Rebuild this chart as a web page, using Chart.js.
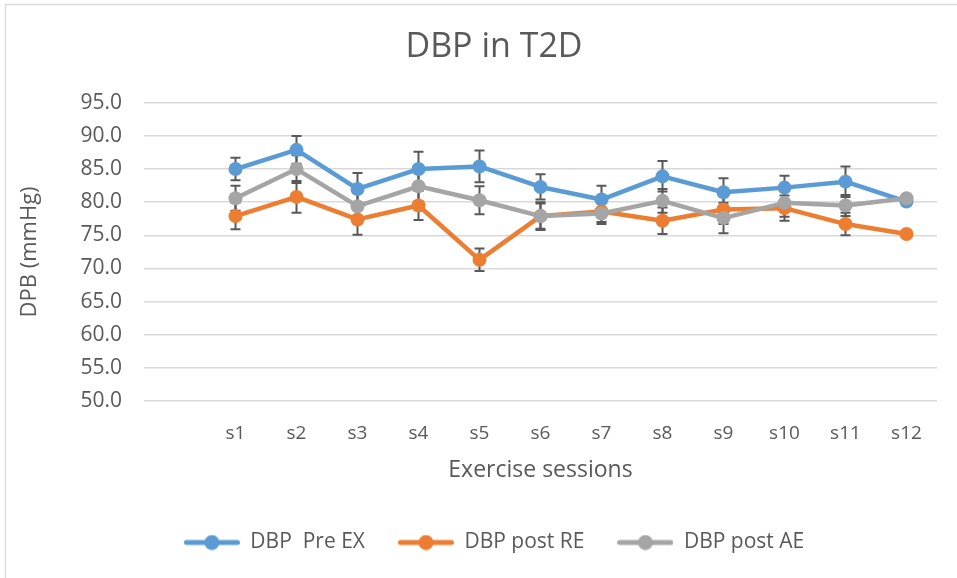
<!DOCTYPE html>
<html><head><meta charset="utf-8">
<script src="https://cdn.jsdelivr.net/npm/chart.js@4.4.1/dist/chart.umd.min.js"></script>
<style>
html,body{margin:0;padding:0;overflow:hidden;background:#fff;width:957px;height:578px}
#wrap{position:absolute;left:0;top:0;width:983px;height:578px}
</style>
</head><body><div id="wrap"><canvas id="c" width="983" height="578"></canvas></div>
<script>
// ---- data ----
const categories = ['', 's1', 's2', 's3', 's4', 's5', 's6', 's7', 's8', 's9', 's10', 's11', 's12'];
const seriesNames = ['DBP  Pre EX', 'DBP post RE', 'DBP post AE'];
const preEx     = [null, 85.0, 87.9, 82.0, 85.0, 85.4, 82.3, 80.4, 83.9, 81.5, 82.2, 83.1, 80.1];
const preExErr  = [null, 1.7, 2.1, 2.4, 2.6, 2.4, 1.9, 2.1, 2.3, 2.1, 1.8, 2.3, 0];
const postRE    = [null, 77.9, 80.8, 77.4, 79.5, 71.3, 77.9, 78.6, 77.2, 78.9, 79.1, 76.7, 75.2];
const postREErr = [null, 2.0, 2.4, 2.3, 2.2, 1.7, 2.1, 1.6, 2.0, 2.2, 1.9, 1.7, 0];
const postAE    = [null, 80.6, 85.0, 79.4, 82.4, 80.3, 77.9, 78.3, 80.2, 77.6, 79.9, 79.5, 80.6];
const postAEErr = [null, 1.9, 2.1, 2.0, 2.3, 2.1, 1.9, 1.6, 1.8, 2.3, 2.1, 1.6, 0];
const yMin = 50, yMax = 95, yStep = 5;

const colors = ['#5B9BD5', '#ED7D31', '#A5A5A5'];
const textColor = '#595959';

function legendIcon(color) {
  const c = document.createElement('canvas');
  c.width = 56; c.height = 16;
  const g = c.getContext('2d');
  g.strokeStyle = color; g.lineWidth = 5; g.lineCap = 'round';
  g.beginPath(); g.moveTo(2.5, 8); g.lineTo(53.5, 8); g.stroke();
  g.fillStyle = color;
  g.beginPath(); g.arc(28, 8, 7.5, 0, Math.PI * 2); g.fill();
  return c;
}
const icons = colors.map(legendIcon);

const errorBars = {
  id: 'errorBars',
  beforeDatasetsDraw(chart) {
    const ctx = chart.ctx, xs = chart.scales.x, ys = chart.scales.y;
    ctx.save();
    ctx.strokeStyle = '#595959';
    ctx.lineWidth = 2;
    chart.data.datasets.forEach(ds => {
      const errs = ds.errors;
      if (!errs) return;
      ds.data.forEach((v, j) => {
        const e = errs[j];
        if (v == null || !e) return;
        const x = xs.getPixelForValue(j);
        const y1 = ys.getPixelForValue(v + e), y2 = ys.getPixelForValue(v - e);
        ctx.beginPath();
        ctx.moveTo(x, y1); ctx.lineTo(x, y2);
        ctx.moveTo(x - 5, y1); ctx.lineTo(x + 5, y1);
        ctx.moveTo(x - 5, y2); ctx.lineTo(x + 5, y2);
        ctx.stroke();
      });
    });
    ctx.restore();
  }
};

const frame = {
  id: 'frame',
  beforeDraw(chart) {
    const ctx = chart.ctx;
    ctx.save();
    ctx.fillStyle = '#fff';
    ctx.fillRect(0, 0, chart.width, chart.height);
    ctx.strokeStyle = '#d9d9d9';
    ctx.lineWidth = 1.3;
    ctx.beginPath();
    ctx.moveTo(5.5, chart.height + 5); ctx.lineTo(5.5, 4.5); ctx.lineTo(chart.width + 5, 4.5);
    ctx.stroke();
    ctx.restore();
  }
};

function mkDs(label, data, errs, color, order) {
  return {
    label, data, errors: errs, order,
    borderColor: color, backgroundColor: color,
    borderWidth: 4.5, tension: 0,
    borderJoinStyle: 'round', borderCapStyle: 'round',
    pointRadius: 7, pointHoverRadius: 7,
    pointBackgroundColor: color, pointBorderColor: color, pointBorderWidth: 0,
    pointStyle: 'circle'
  };
}

Chart.defaults.font.family = "'Open Sans', 'Noto Sans', sans-serif";
Chart.defaults.color = textColor;

new Chart(document.getElementById('c'), {
  type: 'line',
  data: {
    labels: categories,
    datasets: [
      mkDs(seriesNames[0], preEx, preExErr, colors[0], 2),
      mkDs(seriesNames[1], postRE, postREErr, colors[1], 1),
      mkDs(seriesNames[2], postAE, postAEErr, colors[2], 0)
    ]
  },
  options: {
    responsive: false,
    animation: false,
    devicePixelRatio: 1,
    layout: { padding: { left: 5, right: 0, top: 5, bottom: 15 } },
    plugins: {
      tooltip: { enabled: false },
      title: {
        display: true, text: 'DBP in T2D', color: textColor,
        font: { size: 34, weight: 'normal' },
        padding: { top: 22, bottom: 35 }
      },
      legend: {
        display: true, position: 'bottom',
        labels: {
          usePointStyle: true, pointStyleWidth: 56,
          padding: 33, color: textColor,
          font: { size: 21 },
          sort: (a, b) => a.datasetIndex - b.datasetIndex,
          generateLabels(chart) {
            const items = Chart.defaults.plugins.legend.labels.generateLabels(chart);
            items.forEach(it => { it.pointStyle = icons[it.datasetIndex]; });
            return items;
          }
        }
      }
    },
    scales: {
      x: {
        type: 'category', offset: true,
        grid: { display: false, drawTicks: false },
        border: { display: false },
        ticks: { color: textColor, font: { size: 19 }, padding: 21, maxRotation: 0, autoSkip: false },
        title: { display: true, text: 'Exercise sessions', color: textColor, font: { size: 23 }, padding: { top: 0, bottom: 15 } },
        afterFit(s) { s.height = 98; }
      },
      y: {
        min: yMin, max: yMax,
        grid: { color: '#d9d9d9', lineWidth: 1.5, drawTicks: false },
        border: { display: false },
        ticks: { stepSize: yStep, color: textColor, font: { size: 21 }, padding: 22, callback: v => Number(v).toFixed(1) },
        title: { display: true, text: 'DPB (mmHg)', color: textColor, font: { size: 22 }, padding: { top: 12, bottom: 0 } },
        afterFit(s) { s.width = 139; }
      },
      y2: {
        position: 'right', display: true,
        grid: { display: false, drawTicks: false },
        border: { display: false },
        ticks: { display: false },
        afterFit(s) { s.width = 46; }
      }
    }
  },
  plugins: [frame, errorBars]
});
</script>
</body></html>
